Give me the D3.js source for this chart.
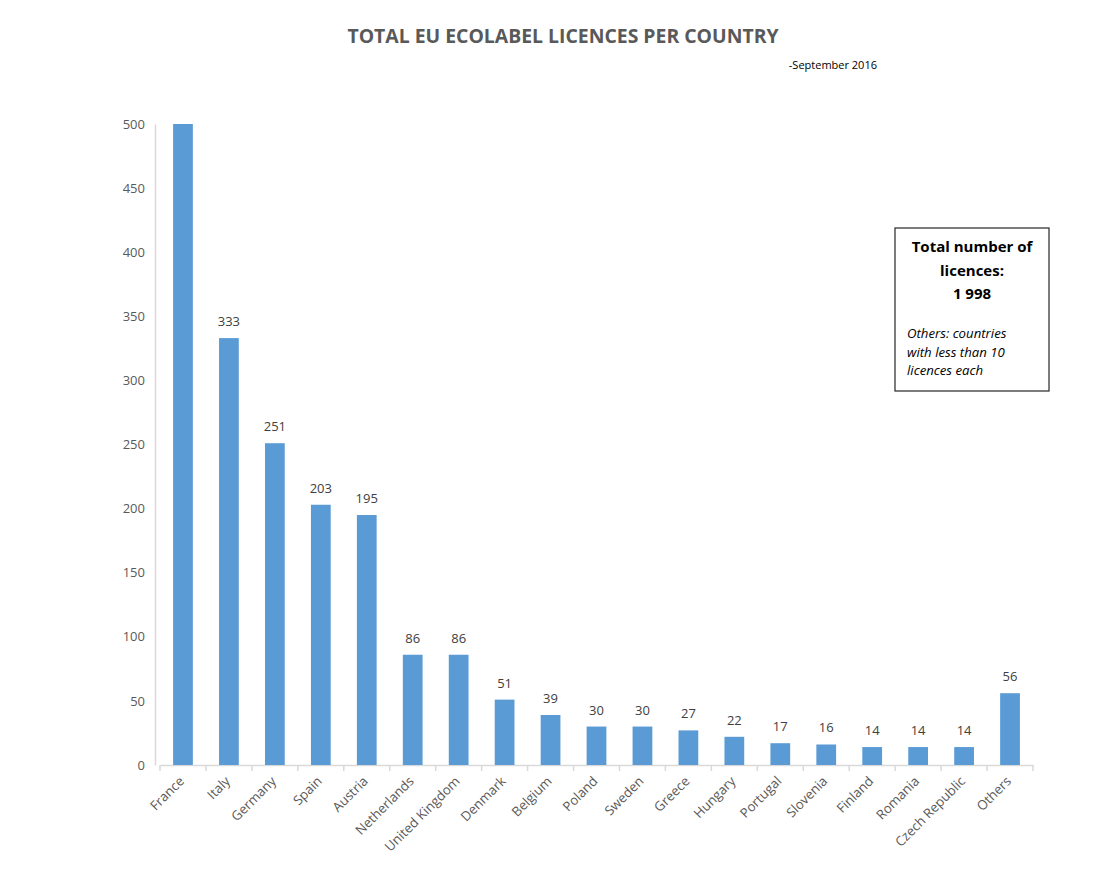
<!DOCTYPE html>
<html>
<head>
<meta charset="utf-8">
<script src="https://cdn.jsdelivr.net/npm/d3@7"></script>
<style>
  body { margin: 0; background: #fff; }
  text { font-family: "Open Sans", "Liberation Sans", sans-serif; }
</style>
</head>
<body>
<div id="chart"></div>
<script>
// chart data
const countries = ["France", "Italy", "Germany", "Spain", "Austria", "Netherlands",
  "United Kingdom", "Denmark", "Belgium", "Poland", "Sweden", "Greece", "Hungary",
  "Portugal", "Slovenia", "Finland", "Romania", "Czech Republic", "Others"];
const licences = [514, 333, 251, 203, 195, 86, 86, 51, 39, 30, 30, 27, 22, 17, 16, 14, 14, 14, 56];
const yTicks = [0, 50, 100, 150, 200, 250, 300, 350, 400, 450, 500];
const noteLines = ["Others: countries", "with less than 10", "licences each"];

const width = 1104, height = 879;
const margin = {top: 124, right: 71, bottom: 114, left: 160};

const svg = d3.select("#chart")
  .append("svg")
  .attr("width", width)
  .attr("height", height);

// scales
const xScale = d3.scaleBand()
  .domain(countries)
  .range([margin.left, width - margin.right])
  .paddingInner(0.57)
  .paddingOuter(0.285);

const yScale = d3.scaleLinear()
  .domain([0, 500])
  .range([height - margin.bottom, margin.top]);

// title
svg.append("text")
  .attr("x", 563).attr("y", 43)
  .attr("text-anchor", "middle")
  .attr("font-size", "19.4px")
  .attr("font-weight", "bold")
  .attr("fill", "#595959")
  .text("TOTAL EU ECOLABEL LICENCES PER COUNTRY");

svg.append("text")
  .attr("x", 877).attr("y", 69)
  .attr("text-anchor", "end")
  .attr("font-size", "11px")
  .attr("fill", "#000")
  .text("-September 2016");

// y axis
const yAxis = svg.append("g")
  .attr("transform", `translate(155,0)`)
  .call(d3.axisLeft(yScale).tickValues(yTicks).tickSize(0).tickPadding(10));
yAxis.select(".domain").attr("stroke", "#d9d9d9").attr("stroke-width", 1.5);
yAxis.selectAll("text").attr("font-size", "13px").attr("fill", "#595959");

// x axis
const xAxis = svg.append("g")
  .attr("transform", `translate(0,${height - margin.bottom})`)
  .call(d3.axisBottom(xScale).tickSize(0));
xAxis.select(".domain").attr("stroke", "#d9d9d9").attr("stroke-width", 1.5);
xAxis.selectAll(".tick text").remove();

// category boundary ticks like the original
const step = xScale.step();
svg.append("g")
  .selectAll("line")
  .data(d3.range(countries.length + 1))
  .join("line")
    .attr("x1", (i) => margin.left + i * step)
    .attr("x2", (i) => margin.left + i * step)
    .attr("y1", height - margin.bottom)
    .attr("y2", height - margin.bottom + 6)
    .attr("stroke", "#d9d9d9")
    .attr("stroke-width", 1.5);

// rotated country labels
svg.append("g")
  .selectAll("text")
  .data(countries)
  .join("text")
    .attr("transform", (d) => `translate(${xScale(d) + xScale.bandwidth() / 2 + 2},${height - margin.bottom + 17}) rotate(-45)`)
    .attr("text-anchor", "end")
    .attr("font-size", "13.2px")
    .attr("fill", "#595959")
    .text((d) => d);

// bars (clipped at top of the axis like the original)
svg.selectAll("rect.bar")
  .data(licences)
  .join("rect")
    .attr("class", "bar")
    .attr("x", (d, i) => xScale(countries[i]))
    .attr("y", (d) => yScale(Math.min(d, 500)))
    .attr("width", xScale.bandwidth())
    .attr("height", (d) => yScale(0) - yScale(Math.min(d, 500)))
    .attr("fill", "#5b9bd5");

// value labels, hidden for clipped bar
svg.selectAll("text.val")
  .data(licences)
  .join("text")
    .attr("class", "val")
    .attr("x", (d, i) => xScale(countries[i]) + xScale.bandwidth() / 2)
    .attr("y", (d) => yScale(d) - 12)
    .attr("text-anchor", "middle")
    .attr("font-size", "13px")
    .attr("fill", "#404040")
    .style("display", (d) => d > 500 ? "none" : null)
    .text((d) => d);

// total box
svg.append("rect")
  .attr("x", 895).attr("y", 228)
  .attr("width", 154).attr("height", 163)
  .attr("fill", "#fff")
  .attr("stroke", "#262626")
  .attr("stroke-width", 1.2);

const boxBold = ["Total number of", "licences:", d3.sum(licences).toString().replace(/(\d)(\d{3})$/, "$1 $2")];
svg.append("g")
  .selectAll("text")
  .data(boxBold)
  .join("text")
    .attr("x", 972)
    .attr("y", (d, i) => 252 + i * 23.5)
    .attr("text-anchor", "middle")
    .attr("font-size", "15px")
    .attr("font-weight", "bold")
    .attr("fill", "#000")
    .text((d) => d);

svg.append("g")
  .selectAll("text")
  .data(noteLines)
  .join("text")
    .attr("x", 907)
    .attr("y", (d, i) => 338 + i * 18.5)
    .attr("font-size", "13.2px")
    .attr("font-style", "italic")
    .attr("fill", "#000")
    .text((d) => d);
</script>
</body>
</html>
